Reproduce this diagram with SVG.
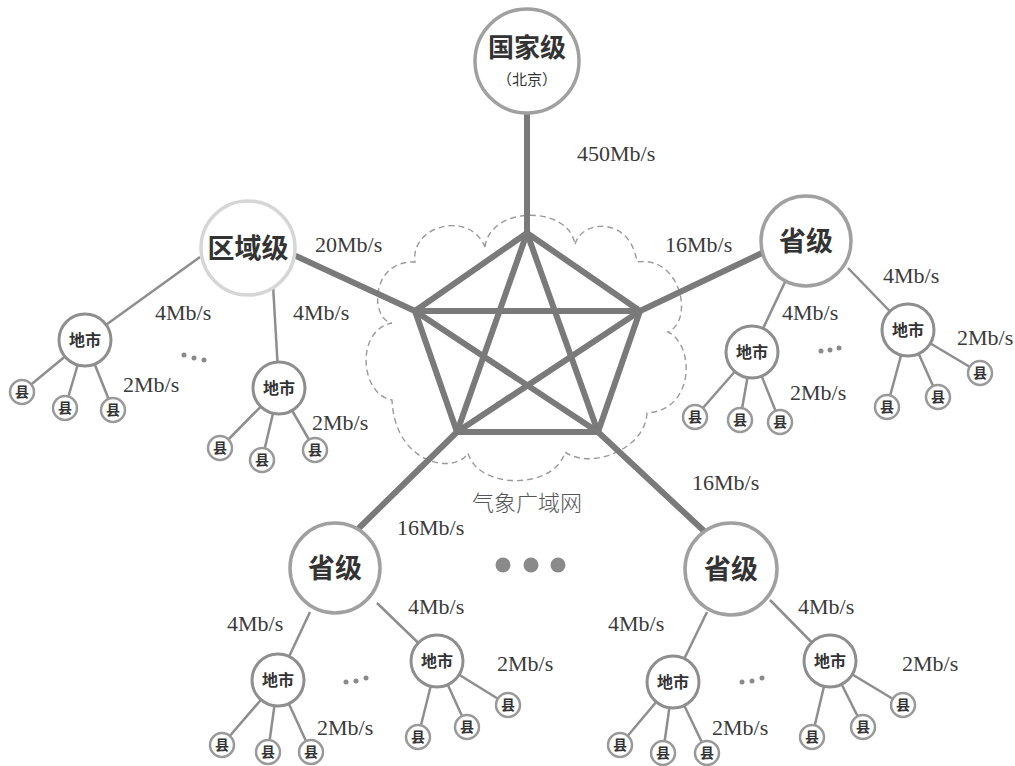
<svg xmlns="http://www.w3.org/2000/svg" width="1015" height="766" viewBox="0 0 1015 766">
<style>
.bg{fill:#ffffff}
.cloud{fill:none;stroke:#9a9a9a;stroke-width:1.4;stroke-dasharray:6 4}
.thick{stroke:#7a7a7a;stroke-width:6;stroke-linecap:round;fill:none}
.thin{stroke:#8e8e8e;stroke-width:2.5;fill:none}
.big{fill:#fff;stroke:#a0a0a0;stroke-width:3.5}
.faint{fill:#fff;stroke:#d6d6d6;stroke-width:3.5}
.mid{fill:#fff;stroke:#8e8e8e;stroke-width:3}
.sm{fill:#fff;stroke:#999;stroke-width:2.5}
.lbl{font-family:"Liberation Serif",serif;font-size:22px;fill:#3a3a3a}
.cn{font-family:"Noto Sans CJK SC","Noto Sans",sans-serif;font-weight:bold;fill:#333;text-anchor:middle}
.big-t{font-size:27px}
.mid-t{font-size:16px}
.sm-t{font-size:14px}
.dot{fill:#8a8a8a}
</style>
<rect class="bg" width="1015" height="766"/>
<path class="cloud" d="M485,247 C490,205 570,205 575,245 C580,220 630,215 637,262 C680,255 695,320 668,332 C695,345 695,410 647,413 C645,450 590,470 565,452 C555,490 478,490 468,453 C455,475 395,465 392,400 C360,395 355,330 392,323 C370,320 370,260 415,262 C410,225 470,210 485,247 Z"/>
<g id="connectors">
<line class="thick" x1="527" y1="112" x2="527" y2="233"/>
<line class="thick" x1="415" y1="311" x2="296" y2="256"/>
<line class="thick" x1="640" y1="311" x2="762" y2="253"/>
<line class="thick" x1="457" y1="432" x2="360" y2="527"/>
<line class="thick" x1="598" y1="432" x2="704" y2="531"/>
<line class="thick" x1="527" y1="233" x2="415" y2="311"/>
<line class="thick" x1="527" y1="233" x2="640" y2="311"/>
<line class="thick" x1="415" y1="311" x2="457" y2="432"/>
<line class="thick" x1="640" y1="311" x2="598" y2="432"/>
<line class="thick" x1="457" y1="432" x2="598" y2="432"/>
<line class="thick" x1="415" y1="311" x2="640" y2="311"/>
<line class="thick" x1="527" y1="233" x2="457" y2="432"/>
<line class="thick" x1="527" y1="233" x2="598" y2="432"/>
<line class="thick" x1="415" y1="311" x2="598" y2="432"/>
<line class="thick" x1="640" y1="311" x2="457" y2="432"/>
<line class="thin" x1="200" y1="257" x2="85" y2="340"/>
<line class="thin" x1="273" y1="285" x2="279" y2="388"/>
<line class="thin" x1="85" y1="340" x2="22" y2="392"/>
<line class="thin" x1="85" y1="340" x2="65" y2="408"/>
<line class="thin" x1="85" y1="340" x2="113" y2="410"/>
<line class="thin" x1="279" y1="388" x2="220" y2="448"/>
<line class="thin" x1="279" y1="388" x2="262" y2="460"/>
<line class="thin" x1="279" y1="388" x2="315" y2="450"/>
<line class="thin" x1="785" y1="282" x2="752" y2="352"/>
<line class="thin" x1="848" y1="268" x2="908" y2="330"/>
<line class="thin" x1="752" y1="352" x2="695" y2="417"/>
<line class="thin" x1="752" y1="352" x2="740" y2="420"/>
<line class="thin" x1="752" y1="352" x2="780" y2="422"/>
<line class="thin" x1="908" y1="330" x2="887" y2="407"/>
<line class="thin" x1="908" y1="330" x2="938" y2="397"/>
<line class="thin" x1="908" y1="330" x2="980" y2="373"/>
<line class="thin" x1="310" y1="612" x2="278" y2="680"/>
<line class="thin" x1="377" y1="603" x2="437" y2="661"/>
<line class="thin" x1="278" y1="680" x2="222" y2="745"/>
<line class="thin" x1="278" y1="680" x2="268" y2="752"/>
<line class="thin" x1="278" y1="680" x2="311" y2="752"/>
<line class="thin" x1="437" y1="661" x2="418" y2="737"/>
<line class="thin" x1="437" y1="661" x2="467" y2="727"/>
<line class="thin" x1="437" y1="661" x2="508" y2="705"/>
<line class="thin" x1="707" y1="612" x2="673" y2="682"/>
<line class="thin" x1="770" y1="600" x2="830" y2="661"/>
<line class="thin" x1="673" y1="682" x2="620" y2="745"/>
<line class="thin" x1="673" y1="682" x2="663" y2="753"/>
<line class="thin" x1="673" y1="682" x2="707" y2="753"/>
<line class="thin" x1="830" y1="661" x2="812" y2="737"/>
<line class="thin" x1="830" y1="661" x2="863" y2="727"/>
<line class="thin" x1="830" y1="661" x2="903" y2="705"/>
</g>
<g id="national"><circle class="big" cx="527" cy="61" r="52"/><text class="cn" x="527" y="57" style="font-size:26px">国家级</text><text class="cn" x="527" y="85" style="font-size:15px;font-weight:normal">（北京）</text></g>
<g id="regional"><circle class="faint" cx="248" cy="248" r="47"/><text class="cn big-t" x="248" y="258">区域级</text></g>
<g id="prov-right"><circle class="big" cx="806" cy="241" r="45"/><text class="cn big-t" x="806" y="251">省级</text></g>
<g id="prov-bl"><circle class="big" cx="335" cy="568" r="45"/><text class="cn big-t" x="335" y="578">省级</text></g>
<g id="prov-br"><circle class="big" cx="731" cy="569" r="46"/><text class="cn big-t" x="731" y="579">省级</text></g>
<g id="city-a"><circle class="mid" cx="85" cy="340" r="26"/><text class="cn mid-t" x="85" y="346">地市</text></g>
<g id="city-b"><circle class="mid" cx="279" cy="388" r="26"/><text class="cn mid-t" x="279" y="394">地市</text></g>
<g id="city-c"><circle class="mid" cx="752" cy="352" r="26"/><text class="cn mid-t" x="752" y="358">地市</text></g>
<g id="city-d"><circle class="mid" cx="908" cy="330" r="26"/><text class="cn mid-t" x="908" y="336">地市</text></g>
<g id="city-e"><circle class="mid" cx="278" cy="680" r="26"/><text class="cn mid-t" x="278" y="686">地市</text></g>
<g id="city-f"><circle class="mid" cx="437" cy="661" r="26"/><text class="cn mid-t" x="437" y="667">地市</text></g>
<g id="city-g"><circle class="mid" cx="673" cy="682" r="26"/><text class="cn mid-t" x="673" y="688">地市</text></g>
<g id="city-h"><circle class="mid" cx="830" cy="661" r="26"/><text class="cn mid-t" x="830" y="667">地市</text></g>
<g id="counties">
<g id="c-a1"><circle class="sm" cx="22" cy="392" r="12"/><text class="cn sm-t" x="22" y="397">县</text></g>
<g id="c-a2"><circle class="sm" cx="65" cy="408" r="12"/><text class="cn sm-t" x="65" y="413">县</text></g>
<g id="c-a3"><circle class="sm" cx="113" cy="410" r="12"/><text class="cn sm-t" x="113" y="415">县</text></g>
<g id="c-b1"><circle class="sm" cx="220" cy="448" r="12"/><text class="cn sm-t" x="220" y="453">县</text></g>
<g id="c-b2"><circle class="sm" cx="262" cy="460" r="12"/><text class="cn sm-t" x="262" y="465">县</text></g>
<g id="c-b3"><circle class="sm" cx="315" cy="450" r="12"/><text class="cn sm-t" x="315" y="455">县</text></g>
<g id="c-c1"><circle class="sm" cx="695" cy="417" r="12"/><text class="cn sm-t" x="695" y="422">县</text></g>
<g id="c-c2"><circle class="sm" cx="740" cy="420" r="12"/><text class="cn sm-t" x="740" y="425">县</text></g>
<g id="c-c3"><circle class="sm" cx="780" cy="422" r="12"/><text class="cn sm-t" x="780" y="427">县</text></g>
<g id="c-d1"><circle class="sm" cx="887" cy="407" r="12"/><text class="cn sm-t" x="887" y="412">县</text></g>
<g id="c-d2"><circle class="sm" cx="938" cy="397" r="12"/><text class="cn sm-t" x="938" y="402">县</text></g>
<g id="c-d3"><circle class="sm" cx="980" cy="373" r="12"/><text class="cn sm-t" x="980" y="378">县</text></g>
<g id="c-e1"><circle class="sm" cx="222" cy="745" r="12"/><text class="cn sm-t" x="222" y="750">县</text></g>
<g id="c-e2"><circle class="sm" cx="268" cy="752" r="12"/><text class="cn sm-t" x="268" y="757">县</text></g>
<g id="c-e3"><circle class="sm" cx="311" cy="752" r="12"/><text class="cn sm-t" x="311" y="757">县</text></g>
<g id="c-f1"><circle class="sm" cx="418" cy="737" r="12"/><text class="cn sm-t" x="418" y="742">县</text></g>
<g id="c-f2"><circle class="sm" cx="467" cy="727" r="12"/><text class="cn sm-t" x="467" y="732">县</text></g>
<g id="c-f3"><circle class="sm" cx="508" cy="705" r="12"/><text class="cn sm-t" x="508" y="710">县</text></g>
<g id="c-g1"><circle class="sm" cx="620" cy="745" r="12"/><text class="cn sm-t" x="620" y="750">县</text></g>
<g id="c-g2"><circle class="sm" cx="663" cy="753" r="12"/><text class="cn sm-t" x="663" y="758">县</text></g>
<g id="c-g3"><circle class="sm" cx="707" cy="753" r="12"/><text class="cn sm-t" x="707" y="758">县</text></g>
<g id="c-h1"><circle class="sm" cx="812" cy="737" r="12"/><text class="cn sm-t" x="812" y="742">县</text></g>
<g id="c-h2"><circle class="sm" cx="863" cy="727" r="12"/><text class="cn sm-t" x="863" y="732">县</text></g>
<g id="c-h3"><circle class="sm" cx="903" cy="705" r="12"/><text class="cn sm-t" x="903" y="710">县</text></g>
</g>
<g id="labels">
<text class="lbl" x="577" y="161">450Mb/s</text>
<text class="lbl" x="315" y="252">20Mb/s</text>
<text class="lbl" x="665" y="252">16Mb/s</text>
<text class="lbl" x="155" y="320">4Mb/s</text>
<text class="lbl" x="293" y="320">4Mb/s</text>
<text class="lbl" x="123" y="392">2Mb/s</text>
<text class="lbl" x="312" y="430">2Mb/s</text>
<text class="lbl" x="883" y="283">4Mb/s</text>
<text class="lbl" x="782" y="320">4Mb/s</text>
<text class="lbl" x="957" y="345">2Mb/s</text>
<text class="lbl" x="790" y="400">2Mb/s</text>
<text class="lbl" x="692" y="490">16Mb/s</text>
<text class="lbl" x="397" y="535">16Mb/s</text>
<text class="lbl" x="408" y="614">4Mb/s</text>
<text class="lbl" x="227" y="631">4Mb/s</text>
<text class="lbl" x="497" y="671">2Mb/s</text>
<text class="lbl" x="317" y="735">2Mb/s</text>
<text class="lbl" x="798" y="614">4Mb/s</text>
<text class="lbl" x="608" y="631">4Mb/s</text>
<text class="lbl" x="902" y="671">2Mb/s</text>
<text class="lbl" x="712" y="735">2Mb/s</text>
<text x="527" y="511" style="font-family:'Noto Sans CJK SC','Noto Sans',sans-serif;font-size:22px;font-weight:300;fill:#555;text-anchor:middle">气象广域网</text>
</g>
<g id="ellipses">
<circle class="dot" cx="184" cy="355" r="2.5"/><circle class="dot" cx="194" cy="358" r="2.5"/><circle class="dot" cx="204" cy="360" r="2.5"/>
<circle class="dot" cx="821" cy="351" r="2.5"/><circle class="dot" cx="830" cy="350" r="2.5"/><circle class="dot" cx="839" cy="348" r="2.5"/>
<circle class="dot" cx="346" cy="682" r="2.5"/><circle class="dot" cx="356" cy="681" r="2.5"/><circle class="dot" cx="366" cy="678" r="2.5"/>
<circle class="dot" cx="742" cy="682" r="2.5"/><circle class="dot" cx="752" cy="681" r="2.5"/><circle class="dot" cx="762" cy="678" r="2.5"/>
<circle class="dot" cx="503" cy="565" r="7.5"/><circle class="dot" cx="531" cy="565" r="7.5"/><circle class="dot" cx="558" cy="565" r="7.5"/>
</g>
</svg>
